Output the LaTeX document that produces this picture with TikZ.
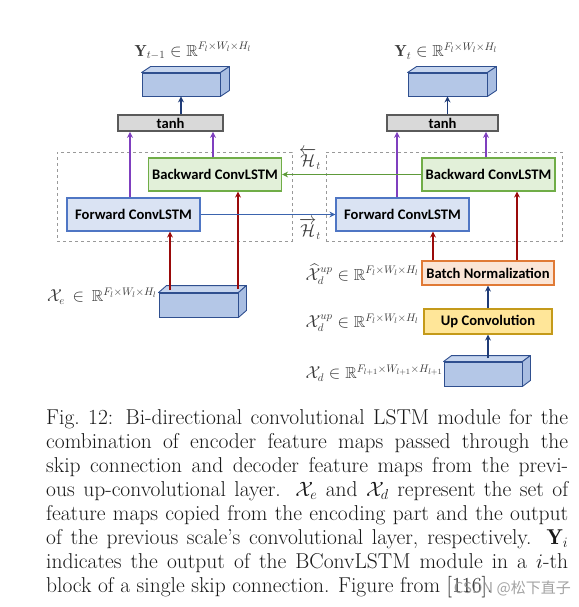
\documentclass[tikz,border=0pt]{standalone}
\usepackage{fontspec}
\usepackage{amsmath,amssymb}
\usetikzlibrary{arrows.meta}
\newfontfamily\boxfont{Carlito}
\newfontfamily\cjkfont{Noto Sans CJK SC}
\definecolor{navyc}{HTML}{1F3C78}
\definecolor{purplec}{HTML}{7F3FBF}
\definecolor{redc}{HTML}{9A0A0A}
\definecolor{greenc}{HTML}{5E9A3A}
\definecolor{bluec}{HTML}{3B64AE}
\definecolor{fwdfill}{HTML}{DAE3F3}
\definecolor{fwddraw}{HTML}{4F76C4}
\definecolor{bwdfill}{HTML}{E2F0D9}
\definecolor{bwddraw}{HTML}{70AD47}
\definecolor{bnfill}{HTML}{FBE5D6}
\definecolor{bndraw}{HTML}{E07A36}
\definecolor{upfill}{HTML}{FFE699}
\definecolor{updraw}{HTML}{C49A1A}
\definecolor{tanhfill}{HTML}{D9D9D9}
\definecolor{tanhdraw}{HTML}{5A5A5A}
\definecolor{cubefront}{HTML}{B4C7E7}
\definecolor{cubetop}{HTML}{C6D5EE}
\definecolor{cubeside}{HTML}{A9BEE2}
\definecolor{cubedraw}{HTML}{2F4F8F}
\definecolor{labc}{HTML}{3A3A3A}
\begin{document}
\begin{tikzpicture}[x=1pt,y=-1pt,
  box/.style={rectangle, inner sep=0pt, line width=1.2pt, font=\boxfont\bfseries\fontsize{14.6}{17}\selectfont, text=black},
  fwd/.style={box, fill=fwdfill, draw=fwddraw, minimum width=133pt, minimum height=33pt},
  bwd/.style={box, fill=bwdfill, draw=bwddraw, minimum width=133pt, minimum height=33pt},
  bn/.style={box, fill=bnfill, draw=bndraw, minimum width=132pt, minimum height=24pt},
  upc/.style={box, fill=upfill, draw=updraw, minimum width=128pt, minimum height=25pt},
  tanhbox/.style={box, fill=tanhfill, draw=tanhdraw, line width=1.8pt, minimum height=16pt},
  dashbox/.style={rectangle, draw=black!40, dashed, line width=0.9pt, inner sep=0pt},
  cubef/.style={rectangle, fill=cubefront, draw=cubedraw, line width=0.9pt, inner sep=0pt},
  cubeface/.style={draw=cubedraw, line width=0.9pt, line join=round},
  arr/.style={line width=1.7pt, -{Stealth[length=6pt,width=6pt,inset=2pt]}},
  lnavy/.style={arr, draw=navyc},
  lpurple/.style={arr, draw=purplec},
  lred/.style={arr, draw=redc},
  lgreen/.style={arr, draw=greenc},
  lblue/.style={arr, draw=bluec},
  mlab/.style={text=labc, inner sep=0pt, font=\fontsize{16}{19}\selectfont},
]
\useasboundingbox (0,0) rectangle (578,607);

% dashed module frames
\node[dashbox, minimum width=235pt, minimum height=89pt] (frameL) at (174.5,196.5) {};
\node[dashbox, minimum width=236pt, minimum height=89pt] (frameR) at (444,196.5) {};

% boxes
\node[tanhbox, minimum width=105pt] (tanhL) at (170.5,123) {tanh};
\node[tanhbox, minimum width=111pt] (tanhR) at (442.5,123) {tanh};
\node[bwd] (bwdL) at (215,174.5) {Backward ConvLSTM};
\node[fwd] (fwdL) at (133.5,214.5) {Forward ConvLSTM};
\node[bwd] (bwdR) at (488.5,174.5) {Backward ConvLSTM};
\node[fwd] (fwdR) at (402.5,214.5) {Forward ConvLSTM};
\node[bn] (bn) at (488,273) {Batch Normalization};
\node[upc] (upc) at (488,321.5) {Up Convolution};

% cuboids
\foreach \n/\cx/\cy/\w/\h/\dx/\dy in {cubeTL/181/84.5/78/23/9/6, cubeTR/447.5/84.5/79/23/9/6, cubeBL/198.5/305/79/24/8/7, cubeBR/483/374/78/24/8/6}{
  \node[cubef, minimum width=\w pt, minimum height=\h pt] (\n) at (\cx,\cy) {};
  \filldraw[cubeface, fill=cubetop] (\n.north west) -- ++(\dx,-\dy) -- ([shift={(\dx,-\dy)}]\n.north east) -- (\n.north east) -- cycle;
  \filldraw[cubeface, fill=cubeside] (\n.north east) -- ++(\dx,-\dy) -- ([shift={(\dx,-\dy)}]\n.south east) -- (\n.south east) -- cycle;
}

% connector end points on cuboid tops
\coordinate (eA) at (170,290);
\coordinate (eB) at (238,289);
\coordinate (dA) at (488,358);

% navy arrows
\draw[lnavy] (cubeTL.south |- tanhL.north) -- (cubeTL.south);
\draw[lnavy] (cubeTR.south |- tanhR.north) -- (cubeTR.south);
\draw[lnavy] (upc.north) -- (bn.south);
\draw[lnavy] (dA) -- (dA |- upc.south);

% purple arrows
\draw[lpurple] (fwdL.north -| 130,0) -- (tanhL.south -| 130,0);
\draw[lpurple] (bwdL.north -| 213,0) -- (tanhL.south -| 213,0);
\draw[lpurple] (fwdR.north -| 397,0) -- (tanhR.south -| 397,0);
\draw[lpurple] (bwdR.north -| 486,0) -- (tanhR.south -| 486,0);

% red arrows
\draw[lred] (eA) -- (eA |- fwdL.south);
\draw[lred] (eB) -- (eB |- bwdL.south);
\draw[lred] (bn.north -| 433,0) -- (fwdR.south -| 433,0);
\draw[lred] (bn.north -| 517,0) -- (bwdR.south -| 517,0);

% recurrent connections
\draw[lgreen] (bwdR.west) -- (bwdL.east);
\draw[lblue] (fwdL.east) -- (fwdR.west);

% labels
\node[mlab] (hb) at (310,159) {$\overleftarrow{\mathcal{H}}_t$};
\node[mlab] (hf) at (310,229) {$\overrightarrow{\mathcal{H}}_t$};
\node[mlab] (yL) at (193,51) {$\mathbf{Y}_{t-1}\in\mathbb{R}^{F_l\times W_l\times H_l}$};
\node[mlab] (yR) at (446,51) {$\mathbf{Y}_{t}\in\mathbb{R}^{F_l\times W_l\times H_l}$};
\node[mlab, anchor=east] (xe) at (157,296) {$\mathcal{X}_e\,\in\,\mathbb{R}^{F_l\times W_l\times H_l}$};
\node[mlab, anchor=east] (xh) at (419,274) {$\widehat{\mathcal{X}}_d^{up}\in\mathbb{R}^{F_l\times W_l\times H_l}$};
\node[mlab, anchor=east] (xu) at (419,323) {$\mathcal{X}_d^{up}\in\mathbb{R}^{F_l\times W_l\times H_l}$};
\node[mlab, anchor=east] (xd) at (443,373) {$\mathcal{X}_d\in\mathbb{R}^{F_{l+1}\times W_{l+1}\times H_{l+1}}$};

% caption
\node[anchor=north west, inner sep=0pt, text width=522pt, align=justify, text=black!90,
      font=\fontsize{21.5}{24}\selectfont] (cap) at (46,409)
{Fig.~12: Bi-directional convolutional LSTM module for the\linebreak
combination of encoder feature maps passed through the\linebreak
skip connection and decoder feature maps from the previ-\linebreak
ous up-convolutional layer. $\mathcal{X}_e$ and $\mathcal{X}_d$ represent the set of\linebreak
feature maps copied from the encoding part and the output\linebreak
of the previous scale's convolutional layer, respectively. $\mathbf{Y}_i$\linebreak
indicates the output of the BConvLSTM module in a $i$-th\linebreak
block of a single skip connection. Figure from [116].};

% watermark
\node[anchor=east, inner sep=0pt, text=black!45, opacity=0.8, font=\cjkfont\fontsize{15}{18}\selectfont] (wm) at (571,588) {CSDN @松下直子};
\end{tikzpicture}
\end{document}
